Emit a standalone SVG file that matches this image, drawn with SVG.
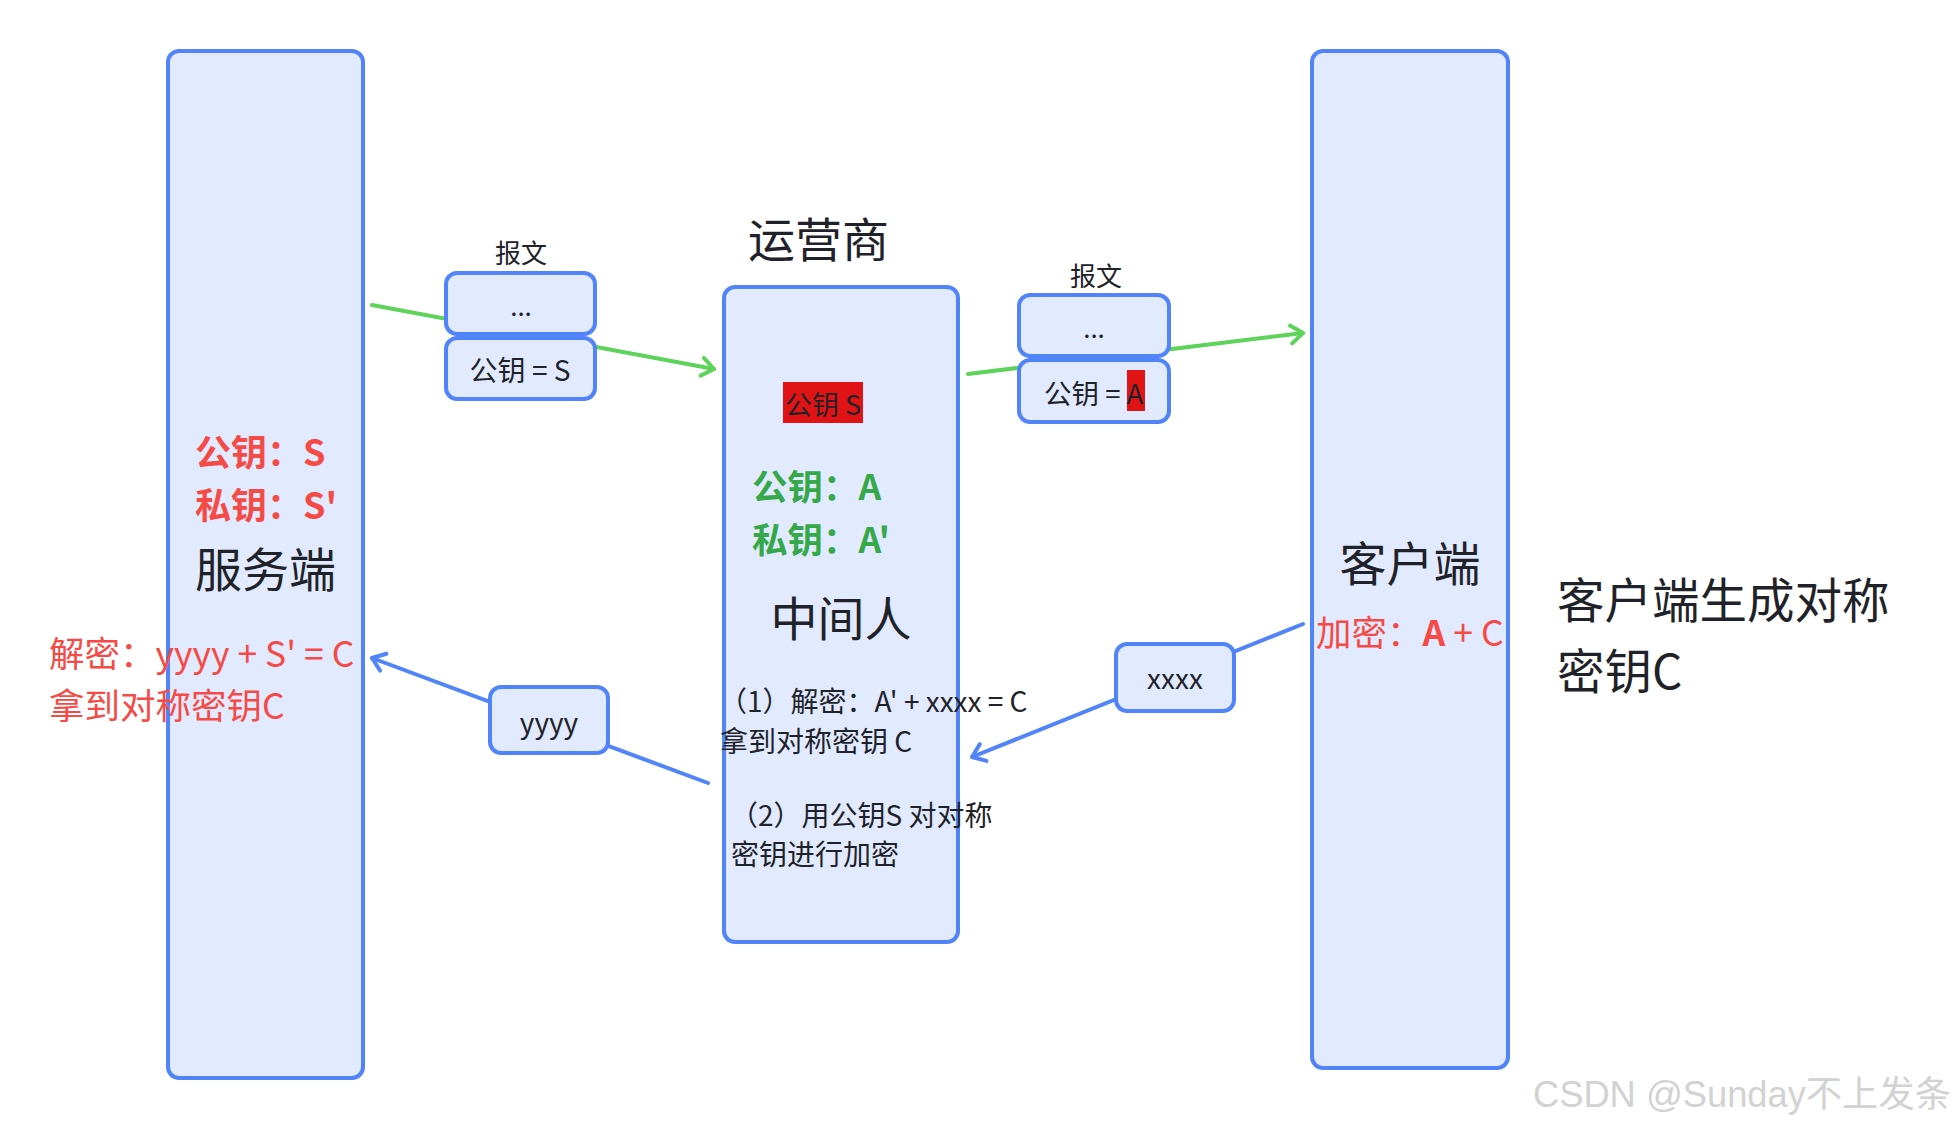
<svg xmlns="http://www.w3.org/2000/svg" width="1957" height="1129" viewBox="0 0 1957 1129">
<style>
.box{fill:#e1eaff;stroke:#5084f8;stroke-width:4}
.t{font-family:"Noto Sans CJK SC","Noto Sans",sans-serif;fill:#1f2329}
.red{fill:#f54a45}
.grn{fill:#35a84a}
.b{font-weight:bold}
.gl{stroke:#5dd35a;stroke-width:4;fill:none;stroke-linecap:round}
.bl{stroke:#5084f8;stroke-width:4;fill:none;stroke-linecap:round}
</style>
<defs>
<marker id="ag" markerUnits="userSpaceOnUse" viewBox="0 0 24 24" refX="20" refY="12" markerWidth="24" markerHeight="24" orient="auto">
<path d="M8,3 L20,12 L8,21" fill="none" stroke="#5dd35a" stroke-width="4" stroke-linecap="round" stroke-linejoin="round"/>
</marker>
<marker id="ab" markerUnits="userSpaceOnUse" viewBox="0 0 24 24" refX="20" refY="12" markerWidth="24" markerHeight="24" orient="auto">
<path d="M8,3 L20,12 L8,21" fill="none" stroke="#5084f8" stroke-width="4" stroke-linecap="round" stroke-linejoin="round"/>
</marker>
</defs>
<rect width="1957" height="1129" fill="#ffffff"/>
<g id="connectors">
<line class="gl" x1="372" y1="305" x2="714" y2="369" marker-end="url(#ag)"/>
<line class="gl" x1="968" y1="374" x2="1303" y2="333" marker-end="url(#ag)"/>
<line class="bl" x1="1303" y1="624" x2="972" y2="757" marker-end="url(#ab)"/>
<line class="bl" x1="708" y1="783" x2="372" y2="658" marker-end="url(#ab)"/>
</g>
<g id="server">
<rect class="box" x="168" y="51" width="195" height="1027" rx="11"/>
<text class="t red b" x="195" y="466" font-size="36">公钥：S</text>
<text class="t red b" x="195" y="519" font-size="36">私钥：S'</text>
<text class="t" x="195" y="587" font-size="47">服务端</text>
<text class="t red" x="49" y="667" font-size="35.5">解密：yyyy + S' = C</text>
<text class="t red" x="49" y="719" font-size="35.5">拿到对称密钥C</text>
</g>
<g id="packet-left">
<text class="t" x="521" y="263" font-size="26" text-anchor="middle">报文</text>
<rect class="box" x="446" y="273" width="149" height="61" rx="11"/>
<text class="t" x="521" y="316" font-size="26" text-anchor="middle">...</text>
<rect class="box" x="446" y="338" width="149" height="61" rx="11"/>
<text class="t" x="520" y="381" font-size="28" text-anchor="middle">公钥 = S</text>
</g>
<g id="carrier">
<text class="t" x="748" y="257" font-size="47">运营商</text>
</g>
<g id="middleman">
<rect class="box" x="724" y="287" width="234" height="655" rx="11"/>
<rect x="783" y="382" width="80" height="41" fill="#e01414"/>
<text class="t" x="785" y="415" font-size="27">公钥 S</text>
<text class="t grn b" x="752" y="500" font-size="35.5">公钥：A</text>
<text class="t grn b" x="752" y="553" font-size="35.5">私钥：A'</text>
<text class="t" x="841" y="636" font-size="47" text-anchor="middle">中间人</text>
<text class="t" x="719" y="712" font-size="28">（1）解密：A' + xxxx = C</text>
<text class="t" x="720" y="752" font-size="28">拿到对称密钥 C</text>
<text class="t" x="730" y="826" font-size="28">（2）用公钥S 对对称</text>
<text class="t" x="731" y="865" font-size="28">密钥进行加密</text>
</g>
<g id="packet-right">
<text class="t" x="1096" y="286" font-size="26" text-anchor="middle">报文</text>
<rect class="box" x="1019" y="295" width="150" height="61" rx="11"/>
<text class="t" x="1094" y="338" font-size="26" text-anchor="middle">...</text>
<rect class="box" x="1019" y="360" width="150" height="62" rx="11"/>
<rect x="1127" y="370" width="18" height="41" fill="#e01414"/>
<text class="t" x="1044" y="404" font-size="27.5">公钥 = A</text>
</g>
<g id="yyyy">
<rect class="box" x="490" y="687" width="118" height="66" rx="11"/>
<text class="t" x="549" y="733" font-size="28" text-anchor="middle">yyyy</text>
</g>
<g id="xxxx">
<rect class="box" x="1116" y="644" width="118" height="67" rx="11"/>
<text class="t" x="1175" y="689" font-size="28" text-anchor="middle">xxxx</text>
</g>
<g id="client">
<rect class="box" x="1312" y="51" width="196" height="1017" rx="11"/>
<text class="t" x="1410" y="581" font-size="47" text-anchor="middle">客户端</text>
<text class="t red" x="1316" y="646" font-size="35.5">加密：<tspan class="b">A</tspan> + C</text>
</g>
<g id="note">
<text class="t" x="1557" y="618" font-size="47.5">客户端生成对称</text>
<text class="t" x="1557" y="689" font-size="47.5">密钥C</text>
</g>
<g id="watermark">
<text x="1533" y="1107" font-size="36" font-family="Liberation Sans,Noto Sans CJK SC,sans-serif" fill="#d2d2d2" textLength="418" lengthAdjust="spacingAndGlyphs">CSDN @Sunday不上发条</text>
</g>
</svg>
